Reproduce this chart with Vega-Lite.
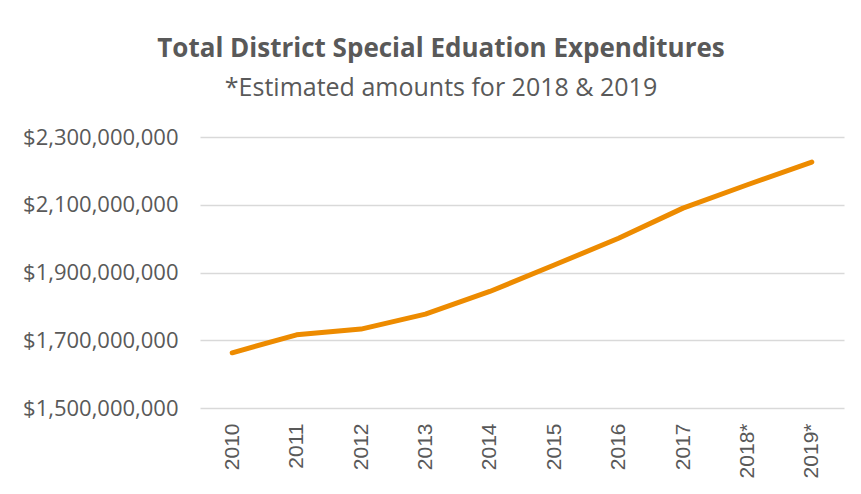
{
  "$schema": "https://vega.github.io/schema/vega-lite/v6.json",
  "width": 644,
  "height": 271,
  "autosize": "none",
  "padding": {"left": 200, "top": 137, "right": 17, "bottom": 86},
  "background": "white",
  "title": {
    "text": "Total District Special Eduation Expenditures",
    "subtitle": "*Estimated amounts for 2018 & 2019",
    "anchor": "middle",
    "frame": "group",
    "dx": -81,
    "offset": 25,
    "font": "Open Sans",
    "fontSize": 26,
    "fontWeight": "bold",
    "color": "#595959",
    "subtitleFont": "Open Sans",
    "subtitleFontSize": 25,
    "subtitleColor": "#595959",
    "subtitlePadding": 14
  },
  "data": {
    "values": [
      {"year": "2010", "amount": 1663000000},
      {"year": "2011", "amount": 1716000000},
      {"year": "2012", "amount": 1733000000},
      {"year": "2013", "amount": 1777000000},
      {"year": "2014", "amount": 1844000000},
      {"year": "2015", "amount": 1922000000},
      {"year": "2016", "amount": 2001000000},
      {"year": "2017", "amount": 2090000000},
      {"year": "2018*", "amount": 2159000000},
      {"year": "2019*", "amount": 2226000000}
    ]
  },
  "mark": {"type": "line", "color": "#ED8B00", "strokeWidth": 5, "strokeCap": "round", "strokeJoin": "round"},
  "encoding": {
    "x": {
      "field": "year",
      "type": "ordinal",
      "sort": null,
      "scale": {"type": "point", "padding": 0.5},
      "axis": {
        "title": null,
        "labelAngle": -90,
        "labelAlign": "right",
        "labelBaseline": "middle",
        "labelPadding": 15,
        "ticks": false,
        "domain": false,
        "grid": false,
        "labelFont": "Liberation Sans",
        "labelFontSize": 21,
        "labelColor": "#595959"
      }
    },
    "y": {
      "field": "amount",
      "type": "quantitative",
      "scale": {"domain": [1500000000, 2300000000], "nice": false, "zero": false},
      "axis": {
        "title": null,
        "values": [1500000000, 1700000000, 1900000000, 2100000000, 2300000000],
        "format": "$,.0f",
        "ticks": false,
        "domain": false,
        "grid": true,
        "gridColor": "#d9d9d9",
        "gridWidth": 1.5,
        "labelPadding": 22,
        "labelFont": "Open Sans",
        "labelFontSize": 22,
        "labelColor": "#595959"
      }
    }
  },
  "config": {"view": {"stroke": null}}
}
